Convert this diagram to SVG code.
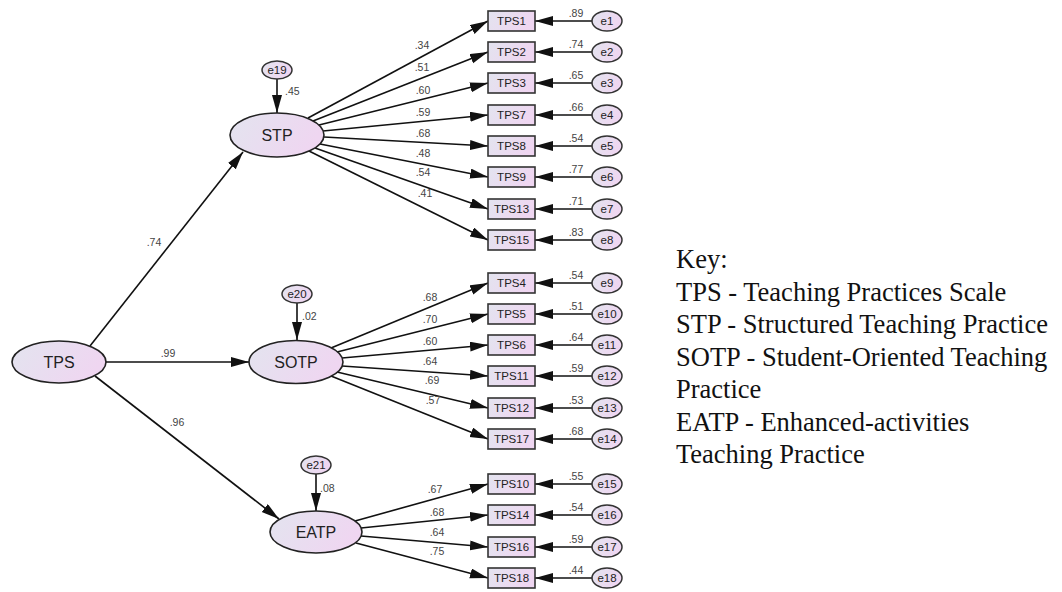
<svg xmlns="http://www.w3.org/2000/svg" width="1062" height="592" viewBox="0 0 1062 592">
  <defs>
    <linearGradient id="fillGrad" x1="0" y1="0" x2="1" y2="0.3">
      <stop offset="0" stop-color="#e3e4ef"/>
      <stop offset="1" stop-color="#efd6f1"/>
    </linearGradient>
    <marker id="arrow" markerUnits="userSpaceOnUse" markerWidth="19" markerHeight="11" refX="18" refY="5" orient="auto">
      <path d="M0,0 L18,5 L0,10 z" fill="#111"/>
    </marker>
    <style>
      .latent { fill: url(#fillGrad); stroke: #222; stroke-width: 1.6; }
      .obs { fill: url(#fillGrad); stroke: #333; stroke-width: 1.6; }
      .err { fill: url(#fillGrad); stroke: #333; stroke-width: 1.5; }
      .lat-t { font-family: "Liberation Sans", Arial, sans-serif; font-size: 16px; fill: #222; text-anchor: middle; }
      .obs-t { font-family: "Liberation Sans", Arial, sans-serif; font-size: 11.5px; fill: #222; text-anchor: middle; }
      .err-t { font-family: "Liberation Sans", Arial, sans-serif; font-size: 11.5px; fill: #222; text-anchor: middle; }
      .coef { font-family: "Liberation Sans", Arial, sans-serif; font-size: 10.5px; fill: #444; text-anchor: middle; }
      .coef-l { font-family: "Liberation Sans", Arial, sans-serif; font-size: 10.5px; fill: #444; }
      .edge { stroke: #111; stroke-width: 1.6; fill: none; marker-end: url(#arrow); }
      .key { font-family: "Liberation Serif", "Times New Roman", serif; font-size: 26.5px; fill: #111; }
    </style>
  </defs>

  <rect width="1062" height="592" fill="#fff"/>

  <!-- connectors -->
  <g id="connectors">
    <!-- second-order paths -->
    <line class="edge" x1="90" y1="346" x2="243" y2="152"/>
    <line class="edge" x1="106" y1="362" x2="249" y2="362"/>
    <line class="edge" x1="95" y1="376" x2="279" y2="519"/>
    <!-- residuals of latent factors -->
    <line class="edge" x1="277" y1="79" x2="277" y2="113"/>
    <line class="edge" x1="297" y1="303" x2="297" y2="340"/>
    <line class="edge" x1="316" y1="474" x2="316" y2="511"/>
    <!-- STP loadings -->
    <line class="edge" x1="308" y1="118" x2="488" y2="21"/>
    <line class="edge" x1="313" y1="121" x2="488" y2="52"/>
    <line class="edge" x1="319" y1="125" x2="488" y2="83"/>
    <line class="edge" x1="323" y1="131" x2="488" y2="115"/>
    <line class="edge" x1="324" y1="137" x2="488" y2="146"/>
    <line class="edge" x1="320" y1="144" x2="488" y2="177"/>
    <line class="edge" x1="315" y1="148" x2="488" y2="209"/>
    <line class="edge" x1="309" y1="151" x2="488" y2="240"/>
    <!-- SOTP loadings -->
    <line class="edge" x1="331" y1="348" x2="488" y2="283"/>
    <line class="edge" x1="337" y1="352" x2="488" y2="314"/>
    <line class="edge" x1="342" y1="358" x2="488" y2="345"/>
    <line class="edge" x1="342" y1="366" x2="488" y2="376"/>
    <line class="edge" x1="337" y1="372" x2="488" y2="408"/>
    <line class="edge" x1="331" y1="376" x2="488" y2="439"/>
    <!-- EATP loadings -->
    <line class="edge" x1="355" y1="521" x2="488" y2="484"/>
    <line class="edge" x1="361" y1="528" x2="488" y2="515"/>
    <line class="edge" x1="361" y1="536" x2="488" y2="547"/>
    <line class="edge" x1="356" y1="543" x2="488" y2="578"/>
    <!-- measurement errors -->
    <line class="edge" x1="592" y1="21" x2="535" y2="21"/>
    <line class="edge" x1="592" y1="52" x2="535" y2="52"/>
    <line class="edge" x1="592" y1="83" x2="535" y2="83"/>
    <line class="edge" x1="592" y1="115" x2="535" y2="115"/>
    <line class="edge" x1="592" y1="146" x2="535" y2="146"/>
    <line class="edge" x1="592" y1="177" x2="535" y2="177"/>
    <line class="edge" x1="592" y1="209" x2="535" y2="209"/>
    <line class="edge" x1="592" y1="240" x2="535" y2="240"/>
    <line class="edge" x1="592" y1="283" x2="535" y2="283"/>
    <line class="edge" x1="592" y1="314" x2="535" y2="314"/>
    <line class="edge" x1="592" y1="345" x2="535" y2="345"/>
    <line class="edge" x1="592" y1="376" x2="535" y2="376"/>
    <line class="edge" x1="592" y1="408" x2="535" y2="408"/>
    <line class="edge" x1="592" y1="439" x2="535" y2="439"/>
    <line class="edge" x1="592" y1="484" x2="535" y2="484"/>
    <line class="edge" x1="592" y1="515" x2="535" y2="515"/>
    <line class="edge" x1="592" y1="547" x2="535" y2="547"/>
    <line class="edge" x1="592" y1="578" x2="535" y2="578"/>

    <!-- path coefficients -->
    <text class="coef" x="154" y="246">.74</text>
    <text class="coef" x="168" y="357">.99</text>
    <text class="coef" x="177" y="426">.96</text>
    <text class="coef-l" x="285" y="95">.45</text>
    <text class="coef-l" x="302" y="320">.02</text>
    <text class="coef-l" x="320" y="492">.08</text>

    <text class="coef" x="422" y="49">.34</text>
    <text class="coef" x="422" y="71">.51</text>
    <text class="coef" x="423" y="94">.60</text>
    <text class="coef" x="423" y="116">.59</text>
    <text class="coef" x="423" y="137">.68</text>
    <text class="coef" x="423" y="157">.48</text>
    <text class="coef" x="423" y="176">.54</text>
    <text class="coef" x="425" y="197">.41</text>

    <text class="coef" x="430" y="301">.68</text>
    <text class="coef" x="430" y="323">.70</text>
    <text class="coef" x="430" y="345">.60</text>
    <text class="coef" x="430" y="365">.64</text>
    <text class="coef" x="432" y="384">.69</text>
    <text class="coef" x="433" y="404">.57</text>

    <text class="coef" x="435" y="493">.67</text>
    <text class="coef" x="437" y="516">.68</text>
    <text class="coef" x="437" y="536">.64</text>
    <text class="coef" x="437" y="555">.75</text>

    <text class="coef" x="576" y="17">.89</text>
    <text class="coef" x="576" y="48">.74</text>
    <text class="coef" x="576" y="79">.65</text>
    <text class="coef" x="576" y="111">.66</text>
    <text class="coef" x="576" y="142">.54</text>
    <text class="coef" x="576" y="173">.77</text>
    <text class="coef" x="576" y="205">.71</text>
    <text class="coef" x="576" y="236">.83</text>
    <text class="coef" x="576" y="279">.54</text>
    <text class="coef" x="576" y="310">.51</text>
    <text class="coef" x="576" y="341">.64</text>
    <text class="coef" x="576" y="372">.59</text>
    <text class="coef" x="576" y="404">.53</text>
    <text class="coef" x="576" y="435">.68</text>
    <text class="coef" x="576" y="480">.55</text>
    <text class="coef" x="576" y="511">.54</text>
    <text class="coef" x="576" y="543">.59</text>
    <text class="coef" x="576" y="574">.44</text>
  </g>

  <!-- latent factors -->
  <g id="TPS"><ellipse class="latent" cx="59" cy="362" rx="47" ry="21"/><text class="lat-t" x="59" y="368">TPS</text></g>
  <g id="STP"><ellipse class="latent" cx="277" cy="135" rx="47" ry="22"/><text class="lat-t" x="277" y="141">STP</text></g>
  <g id="SOTP"><ellipse class="latent" cx="296" cy="362" rx="47" ry="21.5"/><text class="lat-t" x="296" y="368">SOTP</text></g>
  <g id="EATP"><ellipse class="latent" cx="316" cy="532" rx="46" ry="21"/><text class="lat-t" x="316" y="538">EATP</text></g>

  <!-- factor residuals -->
  <g id="e19"><ellipse class="err" cx="277" cy="70" rx="15" ry="9"/><text class="err-t" x="277" y="74">e19</text></g>
  <g id="e20"><ellipse class="err" cx="297" cy="294" rx="15" ry="9"/><text class="err-t" x="297" y="298">e20</text></g>
  <g id="e21"><ellipse class="err" cx="316" cy="465" rx="15" ry="9"/><text class="err-t" x="316" y="469">e21</text></g>

  <!-- observed indicators -->
  <g id="TPS1"><rect class="obs" x="488" y="11" width="47" height="20"/><text class="obs-t" x="511.5" y="25">TPS1</text></g>
  <g id="TPS2"><rect class="obs" x="488" y="42" width="47" height="20"/><text class="obs-t" x="511.5" y="56">TPS2</text></g>
  <g id="TPS3"><rect class="obs" x="488" y="73" width="47" height="20"/><text class="obs-t" x="511.5" y="87">TPS3</text></g>
  <g id="TPS7"><rect class="obs" x="488" y="105" width="47" height="20"/><text class="obs-t" x="511.5" y="119">TPS7</text></g>
  <g id="TPS8"><rect class="obs" x="488" y="136" width="47" height="20"/><text class="obs-t" x="511.5" y="150">TPS8</text></g>
  <g id="TPS9"><rect class="obs" x="488" y="167" width="47" height="20"/><text class="obs-t" x="511.5" y="181">TPS9</text></g>
  <g id="TPS13"><rect class="obs" x="488" y="199" width="47" height="20"/><text class="obs-t" x="511.5" y="213">TPS13</text></g>
  <g id="TPS15"><rect class="obs" x="488" y="230" width="47" height="20"/><text class="obs-t" x="511.5" y="244">TPS15</text></g>

  <g id="TPS4"><rect class="obs" x="488" y="273" width="47" height="20"/><text class="obs-t" x="511.5" y="287">TPS4</text></g>
  <g id="TPS5"><rect class="obs" x="488" y="304" width="47" height="20"/><text class="obs-t" x="511.5" y="318">TPS5</text></g>
  <g id="TPS6"><rect class="obs" x="488" y="335" width="47" height="20"/><text class="obs-t" x="511.5" y="349">TPS6</text></g>
  <g id="TPS11"><rect class="obs" x="488" y="366" width="47" height="20"/><text class="obs-t" x="511.5" y="380">TPS11</text></g>
  <g id="TPS12"><rect class="obs" x="488" y="398" width="47" height="20"/><text class="obs-t" x="511.5" y="412">TPS12</text></g>
  <g id="TPS17"><rect class="obs" x="488" y="429" width="47" height="20"/><text class="obs-t" x="511.5" y="443">TPS17</text></g>

  <g id="TPS10"><rect class="obs" x="488" y="474" width="47" height="20"/><text class="obs-t" x="511.5" y="488">TPS10</text></g>
  <g id="TPS14"><rect class="obs" x="488" y="505" width="47" height="20"/><text class="obs-t" x="511.5" y="519">TPS14</text></g>
  <g id="TPS16"><rect class="obs" x="488" y="537" width="47" height="20"/><text class="obs-t" x="511.5" y="551">TPS16</text></g>
  <g id="TPS18"><rect class="obs" x="488" y="568" width="47" height="20"/><text class="obs-t" x="511.5" y="582">TPS18</text></g>

  <!-- measurement error terms -->
  <g id="e1"><ellipse class="err" cx="607" cy="21" rx="15" ry="10"/><text class="err-t" x="607" y="25">e1</text></g>
  <g id="e2"><ellipse class="err" cx="607" cy="52" rx="15" ry="10"/><text class="err-t" x="607" y="56">e2</text></g>
  <g id="e3"><ellipse class="err" cx="607" cy="83" rx="15" ry="10"/><text class="err-t" x="607" y="87">e3</text></g>
  <g id="e4"><ellipse class="err" cx="607" cy="115" rx="15" ry="10"/><text class="err-t" x="607" y="119">e4</text></g>
  <g id="e5"><ellipse class="err" cx="607" cy="146" rx="15" ry="10"/><text class="err-t" x="607" y="150">e5</text></g>
  <g id="e6"><ellipse class="err" cx="607" cy="177" rx="15" ry="10"/><text class="err-t" x="607" y="181">e6</text></g>
  <g id="e7"><ellipse class="err" cx="607" cy="209" rx="15" ry="10"/><text class="err-t" x="607" y="213">e7</text></g>
  <g id="e8"><ellipse class="err" cx="607" cy="240" rx="15" ry="10"/><text class="err-t" x="607" y="244">e8</text></g>
  <g id="e9"><ellipse class="err" cx="607" cy="283" rx="15" ry="10"/><text class="err-t" x="607" y="287">e9</text></g>
  <g id="e10"><ellipse class="err" cx="607" cy="314" rx="15" ry="10"/><text class="err-t" x="607" y="318">e10</text></g>
  <g id="e11"><ellipse class="err" cx="607" cy="345" rx="15" ry="10"/><text class="err-t" x="607" y="349">e11</text></g>
  <g id="e12"><ellipse class="err" cx="607" cy="376" rx="15" ry="10"/><text class="err-t" x="607" y="380">e12</text></g>
  <g id="e13"><ellipse class="err" cx="607" cy="408" rx="15" ry="10"/><text class="err-t" x="607" y="412">e13</text></g>
  <g id="e14"><ellipse class="err" cx="607" cy="439" rx="15" ry="10"/><text class="err-t" x="607" y="443">e14</text></g>
  <g id="e15"><ellipse class="err" cx="607" cy="484" rx="15" ry="10"/><text class="err-t" x="607" y="488">e15</text></g>
  <g id="e16"><ellipse class="err" cx="607" cy="515" rx="15" ry="10"/><text class="err-t" x="607" y="519">e16</text></g>
  <g id="e17"><ellipse class="err" cx="607" cy="547" rx="15" ry="10"/><text class="err-t" x="607" y="551">e17</text></g>
  <g id="e18"><ellipse class="err" cx="607" cy="578" rx="15" ry="10"/><text class="err-t" x="607" y="582">e18</text></g>

  <!-- legend -->
  <g id="key">
    <text class="key" x="676" y="268">Key:</text>
    <text class="key" x="676" y="300.5">TPS - Teaching Practices Scale</text>
    <text class="key" x="676" y="333">STP - Structured Teaching Practice</text>
    <text class="key" x="676" y="365.5">SOTP - Student-Oriented Teaching</text>
    <text class="key" x="676" y="398">Practice</text>
    <text class="key" x="676" y="430.5">EATP - Enhanced-activities</text>
    <text class="key" x="676" y="463">Teaching Practice</text>
  </g>
</svg>
